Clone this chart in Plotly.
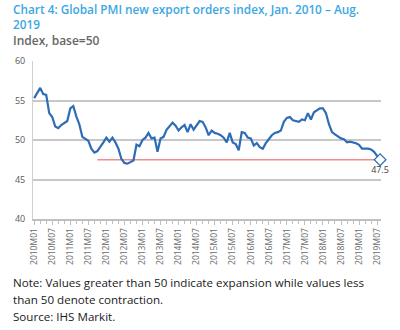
import plotly.graph_objects as go

# Monthly labels 2010M01 .. 2019M08
years = list(range(2010, 2020))
months = [f"{y}M{m:02d}" for y in years for m in range(1, 13)][:116]

pmi_export = [
    # 2010
    55.3, 56.0, 56.6, 55.8, 55.7, 53.4, 52.9, 51.7, 51.5, 51.9, 52.2, 52.4,
    # 2011
    54.0, 54.3, 53.0, 52.0, 50.4, 50.2, 49.9, 48.9, 48.4, 48.6, 49.1, 49.7,
    # 2012
    50.3, 49.8, 50.3, 49.7, 48.9, 47.6, 47.1, 47.0, 47.2, 47.4, 49.4, 49.2,
    # 2013
    50.0, 50.3, 50.9, 50.2, 50.3, 48.5, 50.2, 50.4, 51.3, 51.8, 52.2, 51.8,
    # 2014
    51.2, 51.6, 51.9, 51.0, 52.0, 51.3, 51.9, 52.4, 52.3, 51.6, 50.6, 51.2,
    # 2015
    50.9, 50.8, 50.6, 50.3, 49.7, 50.9, 49.7, 49.5, 48.7, 51.0, 50.9, 50.3,
    # 2016
    50.2, 49.3, 49.6, 49.1, 48.9, 49.6, 50.1, 50.6, 50.9, 51.0, 51.2, 52.3,
    # 2017
    52.8, 52.9, 52.5, 52.4, 52.3, 52.6, 52.5, 53.4, 52.6, 53.5, 53.8, 54.0,
    # 2018
    54.0, 53.4, 52.0, 51.0, 50.7, 50.4, 50.2, 50.1, 49.7, 49.8, 49.7, 49.6,
    # 2019
    49.4, 48.9, 48.9, 48.9, 48.8, 48.5, 48.0, 47.5,
]

ref_level = 47.5
ref_start = "2011M10"
tick_labels = [m for m in months if m.endswith("M01") or m.endswith("M07")]

x_idx = list(range(len(months)))
tick_idx = [months.index(t) for t in tick_labels]
ref_x = [months.index(ref_start), len(months) - 1]

fig = go.Figure()
fig.add_trace(go.Scatter(
    x=ref_x, y=[ref_level, ref_level], mode="lines",
    line=dict(color="#F28B8B", width=1.5), hoverinfo="skip", showlegend=False))
fig.add_trace(go.Scatter(
    x=x_idx, y=pmi_export, mode="lines",
    line=dict(color="#2E6DB6", width=2.2), showlegend=False))
fig.add_trace(go.Scatter(
    x=[x_idx[-1]], y=[pmi_export[-1]], mode="markers+text",
    marker=dict(symbol="diamond", size=9, color="white",
                line=dict(color="#2E6DB6", width=1.2)),
    text=[f"{pmi_export[-1]}"], textposition="bottom center",
    textfont=dict(size=9, color="#404040", family="Open Sans"),
    cliponaxis=False, showlegend=False))

fig.update_layout(
    width=400, height=330,
    margin=dict(l=33, r=19, t=61, b=111),
    paper_bgcolor="white", plot_bgcolor="white",
    font=dict(family="Open Sans", color="#595959"),
    xaxis=dict(
        range=[-0.4, 115.3], tickmode="array", tickvals=tick_idx,
        ticktext=tick_labels, tickangle=-90,
        tickfont=dict(size=8.5, color="#6A6A6A"),
        showgrid=False, zeroline=False,
        showline=True, linecolor="#BFBFBF", linewidth=1.5,
        ticks="outside", ticklen=4, tickcolor="#BFBFBF",
        minor=dict(dtick=2, ticks="outside", ticklen=3, tickcolor="#BFBFBF", showgrid=False),
    ),
    yaxis=dict(
        range=[40, 60], tickvals=[40, 45, 50, 55, 60],
        tickfont=dict(size=9, color="#595959"),
        showgrid=True, gridcolor="#C8C8C8", gridwidth=1.5,
        zeroline=False, showline=True, linecolor="#D0D0D0", linewidth=1,
        ticks="", ticklabelstandoff=5,
    ),
)

def ypaper(py):
    return (219 - py) / 158.0

def xpaper(px):
    return (px - 33) / 348.0

texts = [
    ("Chart 4: Global PMI new export orders index, Jan. 2010 \u2013 Aug.<br>2019", 16.0, "#3BA7E3", 11.8, 600),
    ("Index, base=50", 40.5, "#666666", 12, 600),
    ("Note: Values greater than 50 indicate expansion while values less", 282, "#1A1A1A", 11.6, 500),
    ("than 50 denote contraction.", 299, "#1A1A1A", 11.6, 500),
    ("Source: IHS Markit.", 316, "#1A1A1A", 11.6, 500),
]
for t, py, col, sz, wt in texts:
    fig.add_annotation(
        text=t, xref="paper", yref="paper", x=xpaper(11), y=ypaper(py),
        xanchor="left", yanchor="middle", align="left", showarrow=False,
        font=dict(size=sz, color=col, family="Open Sans", weight=wt))

fig.write_html("out.html")
